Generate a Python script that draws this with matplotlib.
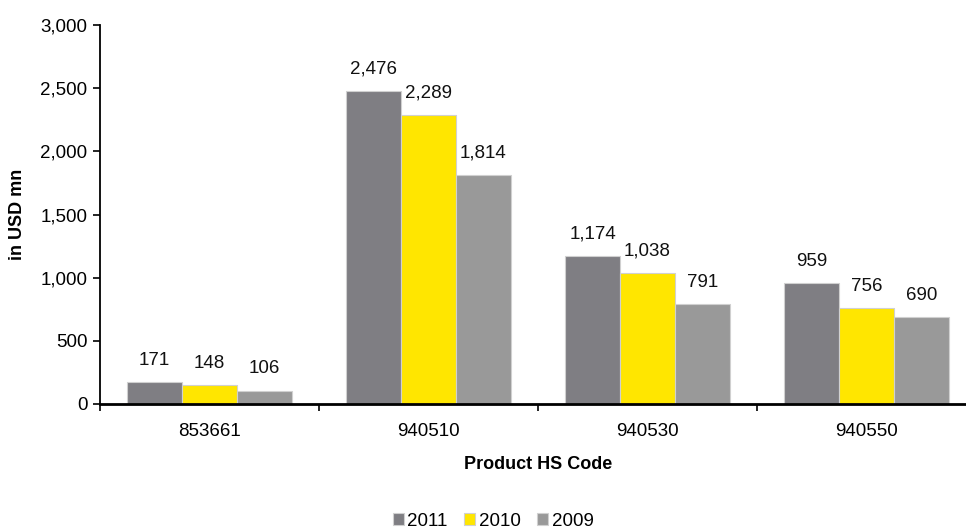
import matplotlib
matplotlib.use("Agg")
import matplotlib.pyplot as plt
import numpy as np

categories = ["853661", "940510", "940530", "940550"]
years = ["2011", "2010", "2009"]
values_2011 = [171, 2476, 1174, 959]
values_2010 = [148, 2289, 1038, 756]
values_2009 = [106, 1814, 791, 690]
series = [values_2011, values_2010, values_2009]
colors = ["#7f7e83", "#ffe600", "#999999"]

plt.rcParams["font.family"] = ["Liberation Sans", "DejaVu Sans"]
fs = 13.5

W, H = 966, 531
fig = plt.figure(figsize=(W / 100, H / 100), dpi=100)
left, bottom, top = 100, 404, 25
axw = 4 * 219
ax = fig.add_axes([left / W, (H - bottom) / H, axw / W, (bottom - top) / H])

x = np.arange(len(categories))
bw = 0.25
for i, (vals, col, yr) in enumerate(zip(series, colors, years)):
    pos = x + (i - 1) * bw
    ax.bar(pos, vals, bw, color=col, edgecolor="#d0d0d0", linewidth=0.8, label=yr, zorder=2)
    for xp, v in zip(pos, vals):
        ax.text(xp, v + 105, f"{v:,}", ha="center", va="bottom", fontsize=fs, color="#111111")

ax.set_xlim(-0.5, 3.5)
ax.set_ylim(0, 3000)
ax.set_yticks(np.arange(0, 3001, 500))
ax.set_yticklabels([f"{v:,}" for v in range(0, 3001, 500)], fontsize=fs)
ax.set_xticks(x)
ax.set_xticklabels(categories, fontsize=fs)
ax.set_xticks(np.arange(-0.5, 4, 1), minor=True)
ax.tick_params(axis="x", which="major", length=0, pad=14)
ax.tick_params(axis="x", which="minor", length=5, width=1.2, direction="out")
ax.tick_params(axis="y", length=5, width=1.2, direction="out", pad=4)

for s in ["top", "right"]:
    ax.spines[s].set_visible(False)
ax.spines["left"].set_linewidth(1.3)
ax.spines["bottom"].set_linewidth(2)

ax.set_ylabel("in USD mn", fontsize=13, fontweight="bold", labelpad=10)
ax.set_xlabel("Product HS Code", fontsize=13, fontweight="bold", labelpad=11)

fig.legend(loc="lower center", bbox_to_anchor=(493 / W, -0.03), ncol=3, frameon=False,
           fontsize=fs, handlelength=0.6, handleheight=0.6, handletextpad=0.2,
           columnspacing=0.85)

fig.savefig("out.png", dpi=100)
